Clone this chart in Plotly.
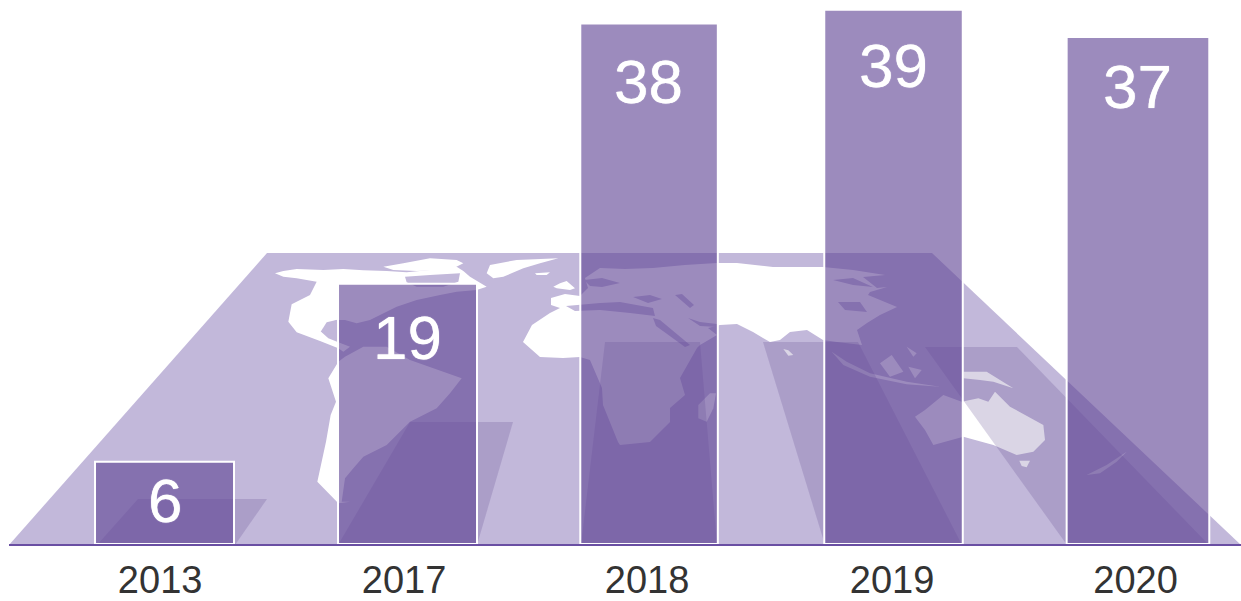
import plotly.graph_objects as go

years = ["2013", "2017", "2018", "2019", "2020"]
values = [6, 19, 38, 39, 37]

PLOT_L, PLOT_W, PLOT_H = 9, 1232, 544
BAR_COLOR = "rgba(98,72,150,0.63)"
WEDGE = "rgba(95,72,142,0.23)"
LILAC = "#c2b8da"
WHITE = "#ffffff"

bar_pos = [0, 1, 1.994, 3.0, 4.006]
bar_width = [0.572, 0.572, 0.566, 0.57, 0.587]
tick_pos = [-0.018, 0.986, 1.986, 2.994, 3.996]
label_drop = [39, 54, 58, 56, 49]
label_nudge = [0, 0, -1, 0, 0]


def z1(p):
    return [(230 + a / 3, 245 + b / 3) for a, b in p]


def z3(p):
    return [(900 + a / 3, 330 + b / 3) for a, b in p]


def z2(p):
    return [(620 + a / 3, 245 + b / 3) for a, b in p]


def poly(pts, color):
    d = ""
    for i, (x, y) in enumerate(pts):
        xp = (x - PLOT_L) / PLOT_W
        yp = (PLOT_H - y) / PLOT_H
        d += ("M" if i == 0 else "L") + f"{xp:.5f},{yp:.5f} "
    return dict(type="path", path=d + "Z", xref="paper", yref="paper",
                fillcolor=color, line=dict(width=0), layer="below")


shapes = [poly([(9, 545), (267, 253), (932, 253), (1241, 545)], LILAC)]

# land
land = [
    z1([(135, 85), (160, 78), (200, 72), (280, 75), (340, 72), (400, 76), (470, 78), (530, 82), (600, 75),
        (680, 65), (700, 78), (720, 95), (745, 110), (770, 125), (740, 135), (680, 140), (630, 150),
        (560, 165), (500, 185), (450, 210), (420, 225), (380, 235), (345, 225), (320, 225), (295, 235),
        (275, 262), (295, 280), (325, 292), (360, 305), (340, 320), (325, 310), (270, 288), (200, 262),
        (175, 230), (185, 178), (240, 150), (260, 110), (200, 100), (160, 95)]),
    z1([(460, 65), (520, 55), (600, 40), (680, 45), (700, 55), (660, 75), (560, 78), (490, 75)]),
    z1([(780, 60), (860, 45), (985, 40), (930, 55), (880, 70), (820, 95), (790, 100), (770, 85)]),
    z1([(915, 85), (960, 82), (950, 90), (920, 90)]),
    z1([(970, 125), (990, 115), (1010, 108), (1035, 130), (1020, 135), (980, 130)]),
    z1([(345, 335), (400, 305), (470, 305), (540, 345), (610, 370), (695, 400), (660, 445), (620, 490),
        (540, 530), (500, 570), (470, 600), (400, 635), (370, 670), (345, 700), (335, 770), (360, 770),
        (325, 775), (262, 710), (275, 650), (288, 590), (302, 510), (318, 470), (295, 400), (325, 350)]),
    [(551, 298), (565, 294), (580, 296), (588, 288), (585, 278), (600, 268), (625, 269), (653, 268), (685, 265),
     (717, 263), (737, 263), (773, 267), (823, 267), (853, 270), (885, 275), (863, 277), (877, 288), (887, 287),
     (870, 292), (868, 295), (897, 307), (880, 315), (867, 323), (857, 330), (862, 345), (837, 342), (823, 340),
     (807, 330), (790, 332), (780, 340), (770, 342), (763, 338), (753, 332), (737, 324), (720, 325), (708, 328),
     (717, 335), (700, 345), (697, 348), (680, 378), (685, 395), (670, 408), (670, 422), (650, 442), (620, 445),
     (618, 442), (603, 405), (602, 388), (590, 360), (580, 357), (563, 358), (540, 357), (523, 342), (532, 325),
     (550, 313), (560, 308), (551, 305)],
    z2([(235, 480), (270, 445), (288, 445), (280, 490), (260, 530), (235, 520)]),
    z2([(490, 312), (505, 316), (520, 330), (505, 332)]),
    z2([(635, 320), (680, 350), (750, 385), (860, 410), (960, 425), (860, 418), (750, 395), (670, 360)]),
    z2([(780, 355), (815, 330), (850, 380), (810, 395)]),
    z2([(860, 305), (890, 325), (880, 335)]),
    z2([(865, 365), (905, 375), (885, 400)]),
    z3([(45, 260), (75, 240), (130, 195), (185, 215), (235, 205), (265, 215), (285, 185), (330, 230), (430, 285),
        (435, 330), (400, 365), (350, 375), (280, 345), (190, 320), (100, 345), (75, 300)]),
    z3([(358, 392), (390, 392), (380, 412), (365, 408)]),
    z3([(190, 125), (260, 125), (340, 175), (280, 155), (240, 150), (190, 145)]),
    z3([(560, 435), (620, 405), (680, 365), (650, 395), (600, 430)]),
]
shapes += [poly(p, WHITE) for p in land]

# inland seas and bays
seas = [
    z1([(525, 95), (600, 90), (690, 85), (685, 110), (640, 125), (560, 125), (530, 112)]),
    z1([(272, 260), (290, 232), (322, 224), (322, 262), (295, 268)]),
    [(566, 306), (600, 303), (620, 302), (653, 308), (655, 316), (630, 313), (600, 310), (575, 311)],
    [(584, 280), (602, 278), (620, 283), (602, 287), (590, 286)],
    [(633, 297), (650, 295), (662, 299), (648, 303)],
    [(675, 295), (682, 294), (694, 305), (690, 308)],
    [(653, 318), (660, 320), (690, 345), (685, 347), (656, 326)],
    [(688, 318), (700, 322), (717, 324), (717, 327), (700, 326)],
    [(833, 280), (853, 278), (873, 287), (853, 285)],
    [(838, 302), (860, 302), (867, 312), (845, 310)],
]
shapes += [poly(p, LILAC) for p in seas]

# perspective shadows of the bars
wedges = [
    [(97, 545), (138, 499), (267, 499), (235, 545)],
    [(338, 545), (410, 422), (513, 422), (477, 545)],
    [(581, 545), (605, 342), (700, 342), (717, 545)],
    [(825, 545), (763, 342), (858, 342), (962, 545)],
    [(1067, 545), (925, 347), (1017, 347), (1209, 545)],
]
shapes += [poly(p, WEDGE) for p in wedges]

fig = go.Figure(go.Bar(
    x=bar_pos, y=values, width=bar_width,
    marker=dict(color=BAR_COLOR, line=dict(color=WHITE, width=2)),
    hoverinfo="x+y",
))

annotations = [
    dict(x=x, y=v, text=str(v), xref="x", yref="y", showarrow=False, yanchor="middle",
         yshift=-d, xshift=n,
         font=dict(family="Liberation Sans", size=62, color=WHITE, shadow="0 0 1px #ffffff"))
    for x, v, d, n in zip(bar_pos, values, label_drop, label_nudge)
]

fig.update_layout(
    width=1241, height=601,
    margin=dict(l=PLOT_L, r=0, t=0, b=57, autoexpand=False),
    paper_bgcolor=WHITE, plot_bgcolor="rgba(0,0,0,0)",
    showlegend=False, shapes=shapes, annotations=annotations,
    xaxis=dict(range=[-0.64, 4.43], tickvals=tick_pos, ticktext=years, showgrid=False, zeroline=False,
               showline=True, linecolor="#6a4fa3", linewidth=2, ticks="", layer="above traces",
               ticklabelstandoff=1,
               tickfont=dict(family="Liberation Sans", size=38, color="#333333"), fixedrange=True),
    yaxis=dict(range=[0, 544 / 13.7], visible=False, fixedrange=True),
)

fig.write_html("out.html", config={"displayModeBar": False},
               post_script="document.body.style.margin='0';document.body.style.overflow='hidden';")
